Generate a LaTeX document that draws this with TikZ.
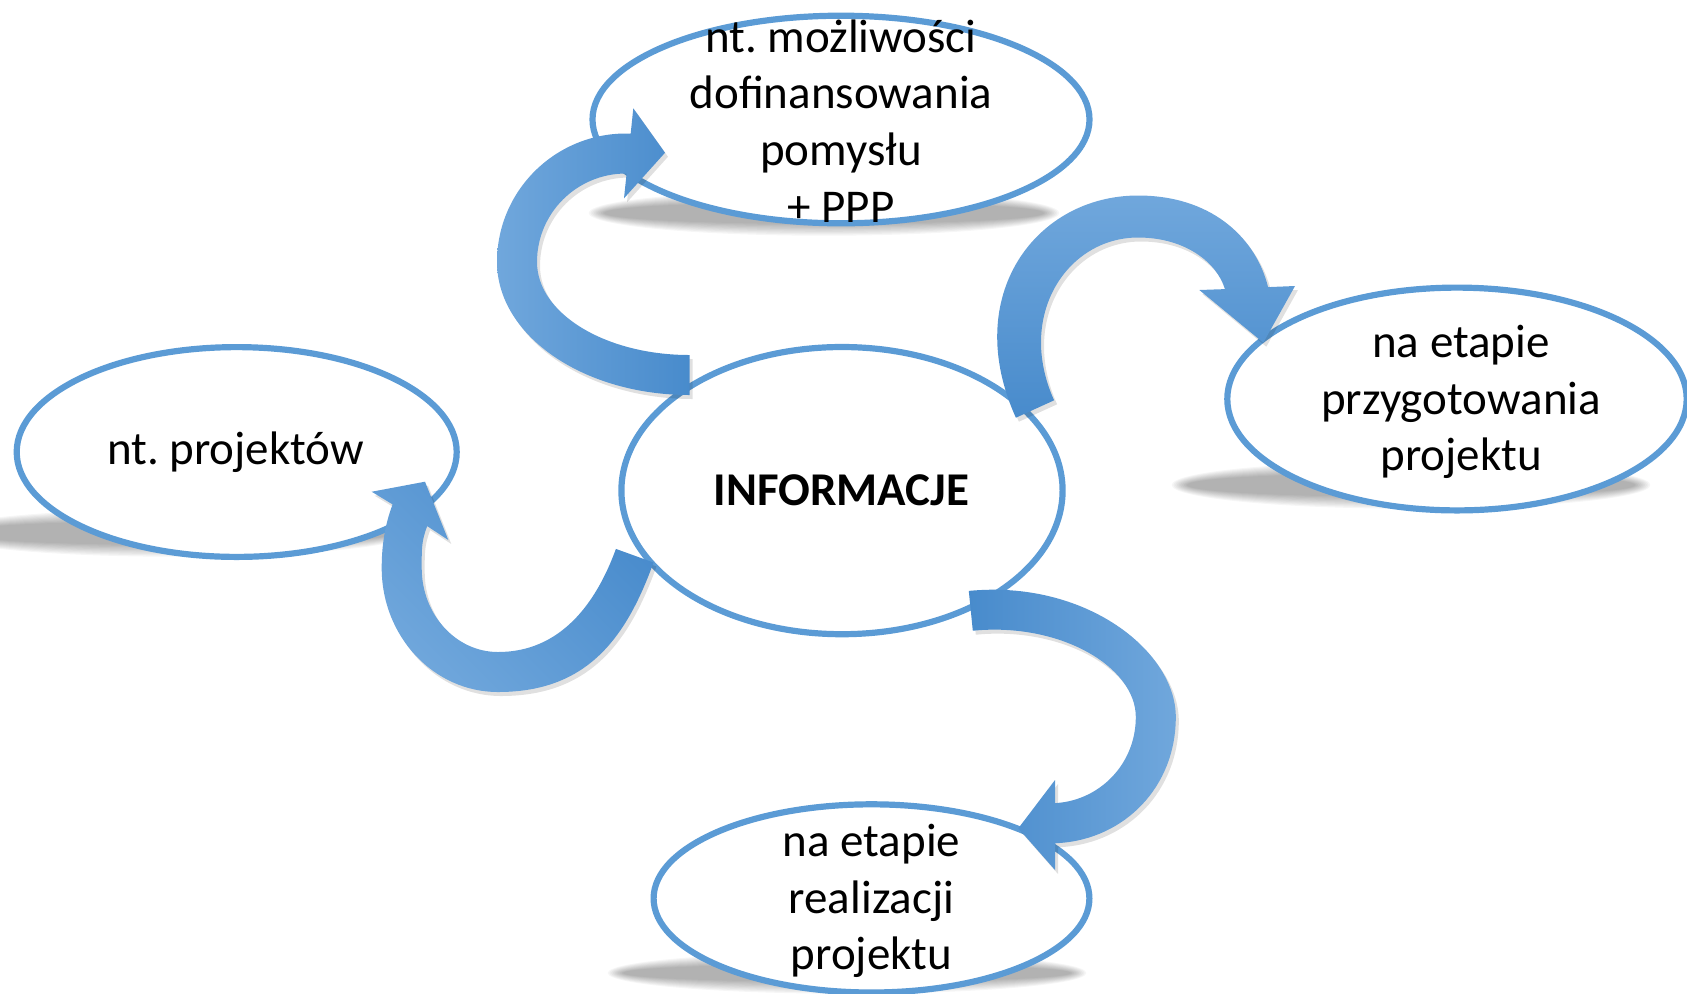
\documentclass[tikz,border=0pt]{standalone}
\usepackage{fontspec}
\setmainfont{Carlito}
\usetikzlibrary{shapes.geometric}
\definecolor{ellblue}{HTML}{5B9BD5}
\definecolor{arrlight}{HTML}{70A7DC}
\definecolor{arrdark}{HTML}{488BCC}
\newcommand\softshadow[4]{%
  \foreach \k in {0,...,9}{%
    \fill[black,opacity=0.035] (#1,#2) ellipse [x radius={(#3+1.7*\k)*0.5pt}, y radius={(#4+1.3*\k)*0.5pt}];
  }%
}
\begin{document}
\frenchspacing
\begin{tikzpicture}[x=0.5pt,y=-0.5pt,
  ell/.style={ellipse,draw=ellblue,line width=3.1pt,fill=white,inner sep=0pt},
  lbl/.style={align=center,font=\fontsize{23.5pt}{28.4pt}\selectfont,inner sep=0pt},
  blockarrow/.style={preaction={fill=black,opacity=0.12,transform canvas={shift={(1.5pt,-2pt)}}}},
]
\useasboundingbox (0,0) rectangle (1687,993);
% soft shadows
\softshadow{824}{213}{220}{11}
\softshadow{1411}{485}{224}{12}
\softshadow{175}{533}{220}{12}
\softshadow{847}{973}{224}{9}
% ellipses
\node[ell,minimum width=248.5pt,minimum height=103.8pt] (nTop) at (841,119.5) {};
\node[ell,minimum width=229.7pt,minimum height=111.4pt] (nRight) at (1457,399) {};
\node[ell,minimum width=220.6pt,minimum height=143.6pt] (nMid) at (842,490.6) {};
\node[ell,minimum width=220pt,minimum height=104.9pt] (nLeft) at (236.7,452) {};
\node[ell,minimum width=217.9pt,minimum height=94.1pt] (nBot) at (871.5,898.4) {};
% labels
\node[lbl] (tTop) at (841,121) {nt. możliwości\\dofinansowania\\pomysłu\\+ PPP};
\node[lbl] (tRight) at (1461,402) {na etapie\\przygotowania\\projektu};
\node[lbl,font=\fontsize{23.5pt}{28.4pt}\selectfont\bfseries] (tMid) at (841.4,490.6) {INFORMACJE};
\node[lbl] (tLeft) at (235.6,452.5) {nt. projektów};
\node[lbl] (tBot) at (871.5,901) {na etapie\\realizacji\\projektu};
% arrow tail / tip points
\coordinate (a1s) at (689.5,395);   \coordinate (a1e) at (665,152.7);
\coordinate (a2s) at (1015.9,417.7); \coordinate (a2e) at (1263.3,342.7);
\coordinate (a3s) at (653.5,562.5);  \coordinate (a3e) at (425,481.7);
\coordinate (a4s) at (968.8,590.9);  \coordinate (a4e) at (1018.3,828.3);
% curved block arrows: nMid -> nTop
\shade[blockarrow,left color=arrlight,right color=arrdark]
  (a1s) .. controls (583.2,395) and (497,335.5) .. (497,262)
        .. controls (497,191) and (554.8,133.5) .. (626,133.5)
        -- (630.7,133.5) -- (633.3,108.3) -- (a1e) -- (624,198.3) -- (626.6,173.5) -- (626,173.5)
        .. controls (576.8,173.5) and (537,213.1) .. (537,262)
        .. controls (537,313.4) and (605.3,355) .. (689.5,355) -- cycle;
% nMid -> nRight
\shade[blockarrow,top color=arrlight,bottom color=arrdark]
  (a2s) .. controls (960.4,295) and (1036.5,195.5) .. (1138,195.5)
        .. controls (1210,195.5) and (1253.3,236) .. (1266.7,282.1)
        -- (1268.1,287.1) -- (1295,286) -- (a2e) -- (1199.3,290) -- (1224.9,289.1)
        .. controls (1217.3,263.2) and (1186,237.5) .. (1138,237.5)
        .. controls (1067.5,237.5) and (1015.6,315) .. (1054.1,400.3) -- cycle;
% nMid -> nLeft
\shade[blockarrow,top color=arrdark,bottom color=arrlight,shading angle=-45]
  (a3s) .. controls (625.7,639.5) and (586,692) .. (498,692)
        .. controls (433.8,692) and (381.7,636.5) .. (381.7,568)
        .. controls (381.7,548) and (384.1,526.9) .. (392.6,504.4)
        -- (371.7,491.7) -- (a3e) -- (448.3,540) -- (427.2,526.1)
        .. controls (421.5,541.1) and (421.7,548) .. (421.7,568)
        .. controls (421.7,614.4) and (455.9,652) .. (498,652)
        .. controls (560.4,652) and (596.1,603.5) .. (615.9,548.9) -- cycle;
% nMid -> nBot
\shade[blockarrow,left color=arrdark,right color=arrlight]
  (a4s) .. controls (1084.7,579.5) and (1175.8,650.5) .. (1175.8,717)
        .. controls (1175.8,787.4) and (1124.2,838.6) .. (1059.4,843)
        -- (1055,843.3) -- (1055,870) -- (a4e) -- (1055,780) -- (1055,803.1) -- (1056.6,803)
        .. controls (1099.8,800) and (1135.8,764) .. (1135.8,717)
        .. controls (1135.8,666.9) and (1060.3,622.1) .. (972.8,630.7) -- cycle;
\end{tikzpicture}
\end{document}
